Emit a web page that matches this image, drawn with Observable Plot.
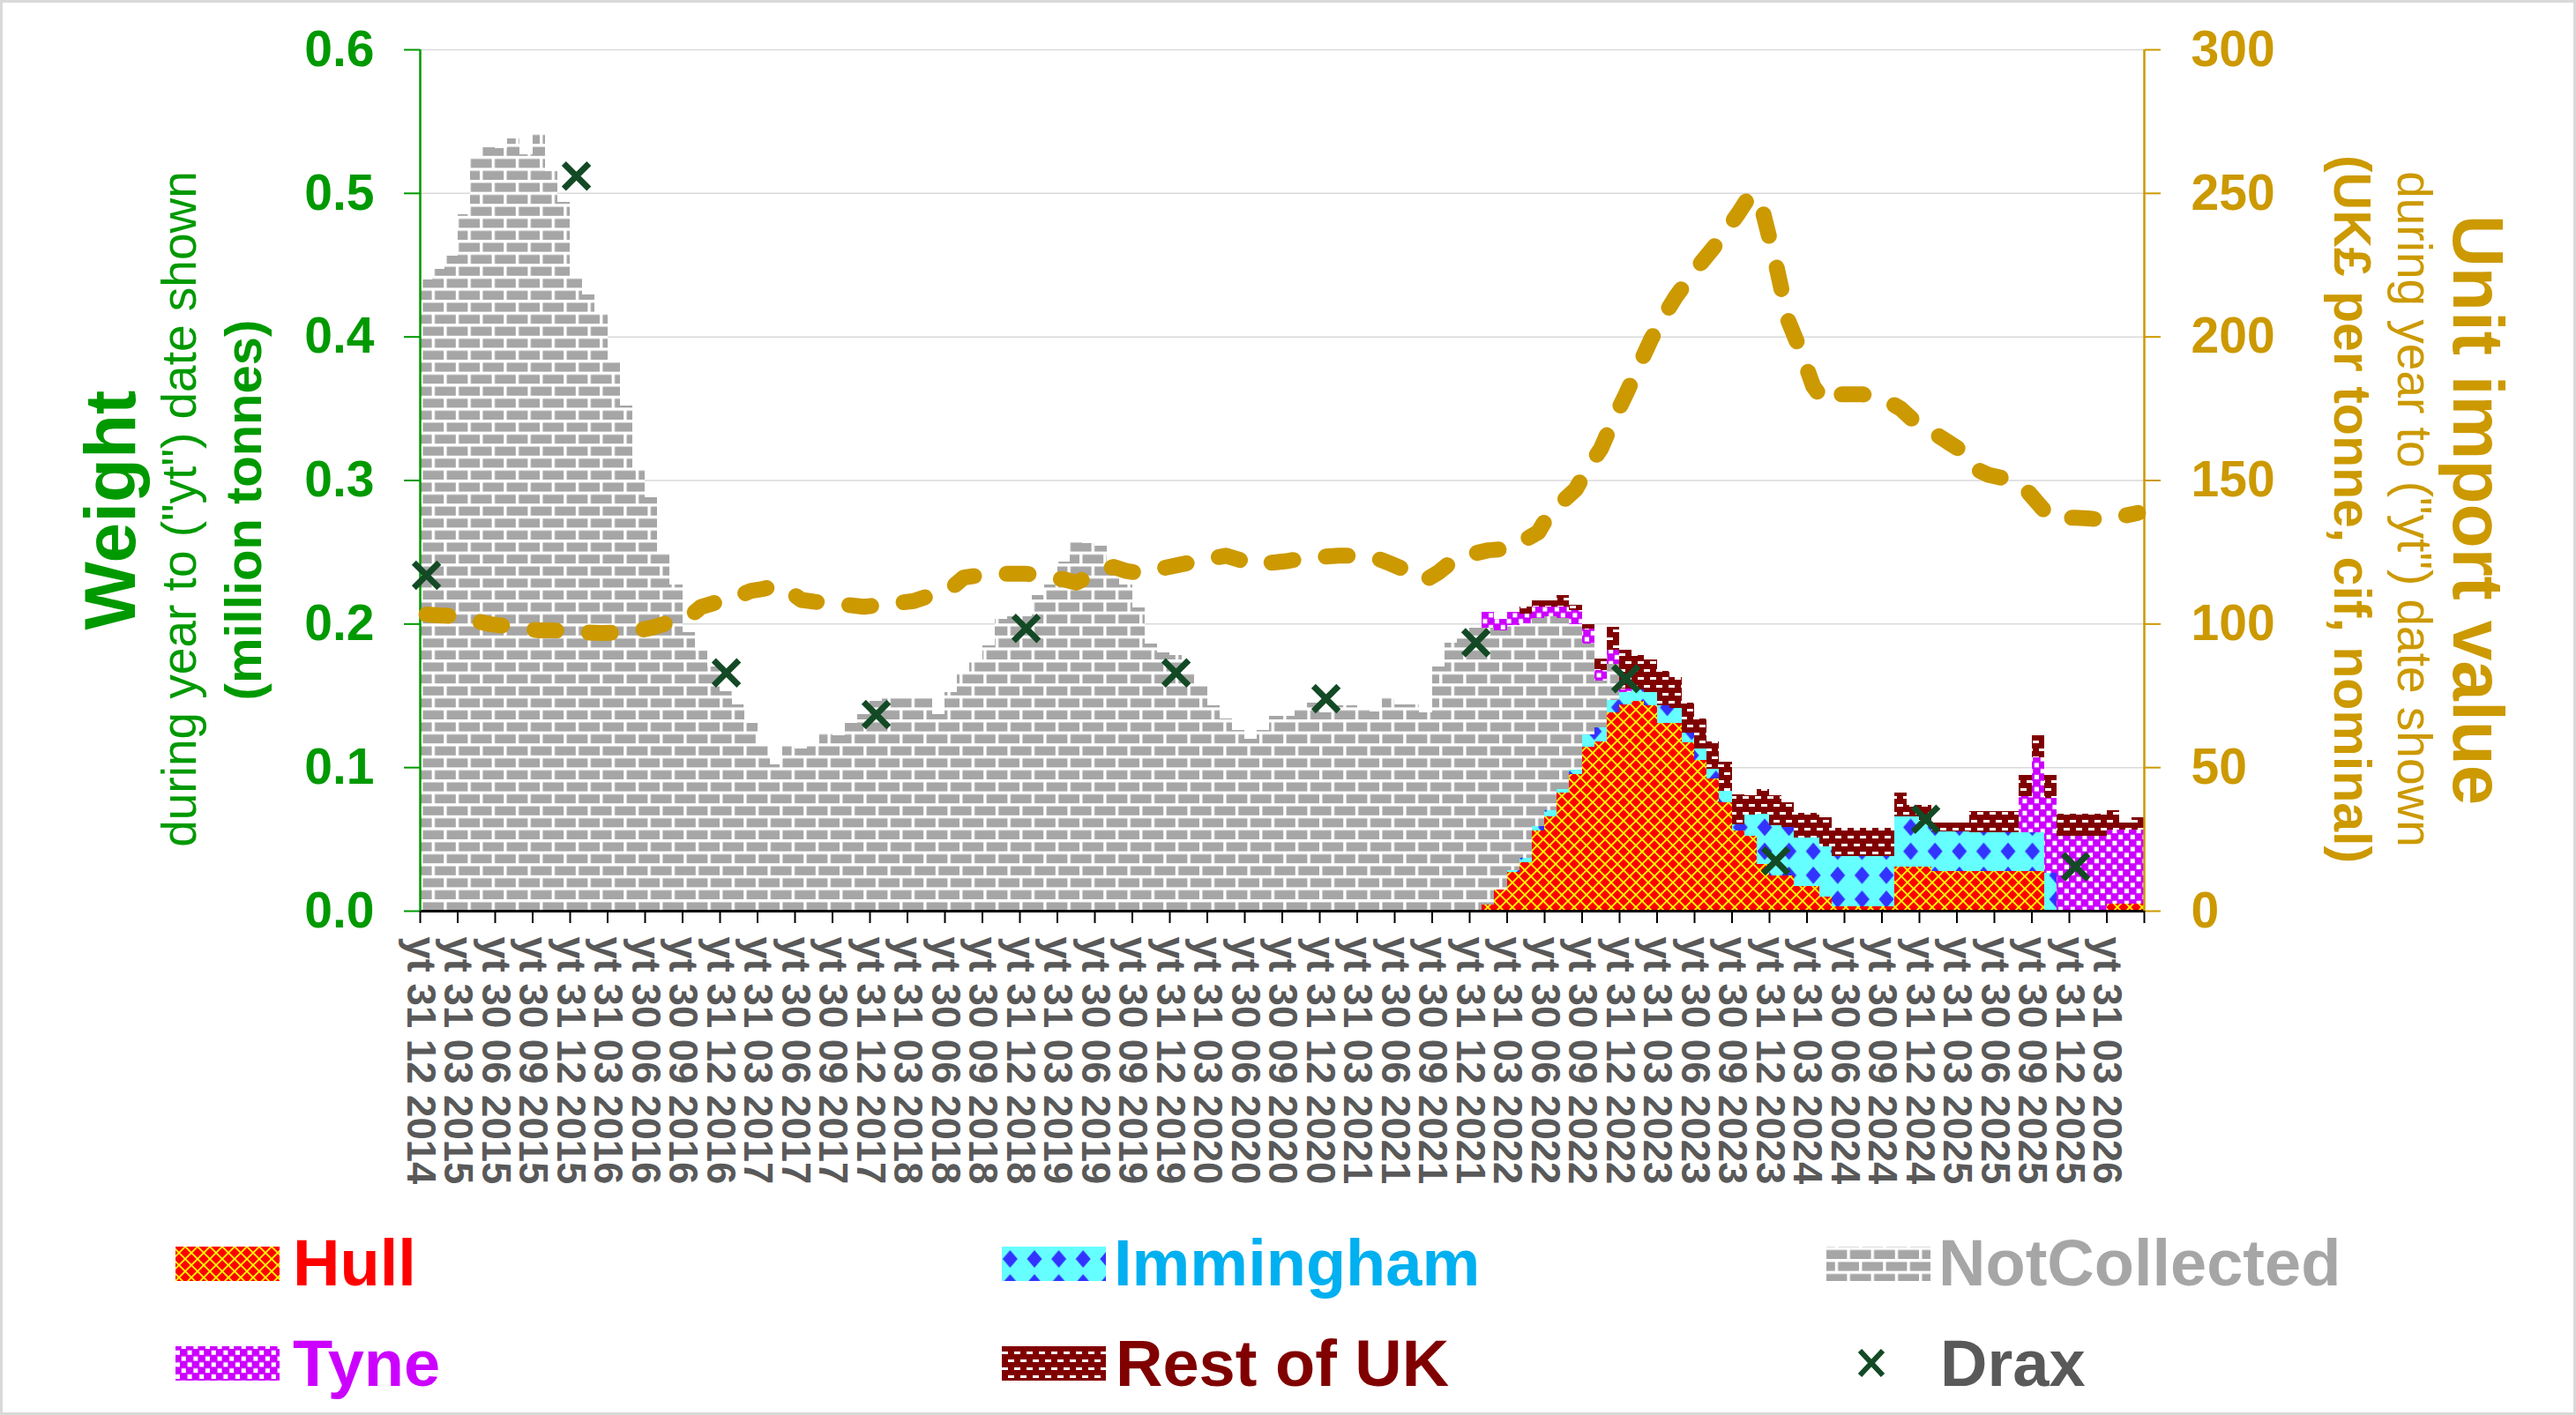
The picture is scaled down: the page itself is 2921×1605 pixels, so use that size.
<!DOCTYPE html>
<html>
<head>
<meta charset="utf-8">
<script src="https://cdn.jsdelivr.net/npm/d3@7"></script>
<script src="https://cdn.jsdelivr.net/npm/@observablehq/plot@0.6"></script>
<style>
html,body{margin:0;padding:0;background:#fff;}
#wrap{position:relative;width:2921px;height:1605px;overflow:hidden;background:#fff;font-family:"Liberation Sans",Arial,sans-serif;}
#chart{position:absolute;left:0;top:0;width:2921px;}
#legend{position:absolute;left:0;top:0;}
#frame{position:absolute;left:0;top:0;width:2921px;height:1605px;box-sizing:border-box;border:3px solid #d9d9d9;pointer-events:none;}
#legend text{font-family:"Liberation Sans",Arial,sans-serif;font-weight:bold;font-size:74px;}
</style>
</head>
<body>
<div id="wrap">
<div id="chart"></div>
<svg id="legend" width="2921" height="1605">
  <defs>
    <pattern id="pNot" patternUnits="userSpaceOnUse" width="27.2" height="27.2">
      <rect width="27.2" height="27.2" fill="#ffffff"/>
      <rect x="3.4" y="3.4" width="23.8" height="10.2" fill="#a6a6a6"/>
      <rect x="0" y="17" width="13.6" height="10.2" fill="#a6a6a6"/>
      <rect x="17" y="17" width="10.2" height="10.2" fill="#a6a6a6"/>
    </pattern>
    <pattern id="pHull" patternUnits="userSpaceOnUse" width="14" height="14">
      <rect width="14" height="14" fill="#ff0000"/>
      <path d="M-1,-1L15,15M15,-1L-1,15" stroke="#ffff00" stroke-width="1.8"/>
    </pattern>
    <pattern id="pImm" patternUnits="userSpaceOnUse" width="27.6" height="27.2">
      <rect width="27.6" height="27.2" fill="#66ffff"/>
      <path d="M13.8,3.6L22.3,13.6L13.8,23.6L5.3,13.6Z" fill="#3333ff"/>
    </pattern>
    <pattern id="pTyne" patternUnits="userSpaceOnUse" width="13.6" height="13.6">
      <rect width="13.6" height="13.6" fill="#cc00ff"/>
      <rect x="1.7" y="1.7" width="5.1" height="5.1" fill="#ffffff"/>
      <rect x="8.5" y="8.5" width="5.1" height="5.1" fill="#ffffff"/>
    </pattern>
    <pattern id="pRest" patternUnits="userSpaceOnUse" width="14" height="18">
      <rect width="14" height="18" fill="#800000"/>
      <rect x="2" y="3" width="7" height="3" fill="#ffffff"/>
      <rect x="9" y="12" width="7" height="3" fill="#ffffff"/>
      <rect x="-5" y="12" width="7" height="3" fill="#ffffff"/>
    </pattern>
  </defs>
  <rect x="199" y="1414" width="118" height="39" fill="url(#pHull)"/>
  <text x="332" y="1458" fill="#ff0000">Hull</text>
  <rect x="1136" y="1414" width="118" height="39" fill="url(#pImm)"/>
  <text x="1263" y="1458" fill="#00b0f0">Immingham</text>
  <rect x="2071" y="1414" width="118" height="39" fill="url(#pNot)"/>
  <text x="2198" y="1458" fill="#a6a6a6">NotCollected</text>
  <rect x="199" y="1527" width="118" height="39" fill="url(#pTyne)"/>
  <text x="332" y="1572" fill="#cc00ff">Tyne</text>
  <rect x="1136" y="1527" width="118" height="39" fill="url(#pRest)"/>
  <text x="1265" y="1572" fill="#800000">Rest of UK</text>
  <path d="M2109,1532L2135,1560M2135,1532L2109,1560" stroke="#134a25" stroke-width="6"/>
  <text x="2200" y="1572" fill="#595959">Drax</text>
</svg>
<div id="frame"></div>
</div>
<script>
// ---- category tick labels (every 3rd month) ----
const tickLabels = [
  "yt 31 12 2014",
  "yt 31 03 2015","yt 30 06 2015","yt 30 09 2015","yt 31 12 2015",
  "yt 31 03 2016","yt 30 06 2016","yt 30 09 2016","yt 31 12 2016",
  "yt 31 03 2017","yt 30 06 2017","yt 30 09 2017","yt 31 12 2017",
  "yt 31 03 2018","yt 30 06 2018","yt 30 09 2018","yt 31 12 2018",
  "yt 31 03 2019","yt 30 06 2019","yt 30 09 2019","yt 31 12 2019",
  "yt 31 03 2020","yt 30 06 2020","yt 30 09 2020","yt 31 12 2020",
  "yt 31 03 2021","yt 30 06 2021","yt 30 09 2021","yt 31 12 2021",
  "yt 31 03 2022","yt 30 06 2022","yt 30 09 2022","yt 31 12 2022",
  "yt 31 03 2023","yt 30 06 2023","yt 30 09 2023","yt 31 12 2023",
  "yt 31 03 2024","yt 30 06 2024","yt 30 09 2024","yt 31 12 2024",
  "yt 31 03 2025","yt 30 06 2025","yt 30 09 2025","yt 31 12 2025",
  "yt 31 03 2026"
];

// ---- weight, million tonnes, monthly (year to date) ----
const hull = [
  0,0,0,0,0,0,0,0,0,0,
  0,0,0,0,0,0,0,0,0,0,
  0,0,0,0,0,0,0,0,0,0,
  0,0,0,0,0,0,0,0,0,0,
  0,0,0,0,0,0,0,0,0,0,
  0,0,0,0,0,0,0,0,0,0,
  0,0,0,0,0,0,0,0,0,0,
  0,0,0,0,0,0,0,0,0,0,
  0,0,0,0,0,.004,.015,.027,.034,.056,
  .066,.082,.095,.114,.118,.138,.144,.146,.143,.131,
  .131,.1175,.105,.092,.0756,.056,.052,.0325,.0243,.0243,
  .0172,.0172,.010,.0028,.0028,.0028,.0028,.0028,.0305,.0305,
  .0305,.0274,.0274,.0274,.0274,.0274,.0274,.0274,.0274,.0274,
  0,0,0,0,0,.0049,.0049,.0049
];
const immingham = [
  0,0,0,0,0,0,0,0,0,0,
  0,0,0,0,0,0,0,0,0,0,
  0,0,0,0,0,0,0,0,0,0,
  0,0,0,0,0,0,0,0,0,0,
  0,0,0,0,0,0,0,0,0,0,
  0,0,0,0,0,0,0,0,0,0,
  0,0,0,0,0,0,0,0,0,0,
  0,0,0,0,0,0,0,0,0,0,
  0,0,0,0,0,0,0,.001,.003,.003,
  .004,.003,.0035,.009,.010,.009,.008,.008,.009,.012,
  .010,.0065,.008,.007,.008,.004,.015,.035,.035,.034,
  .034,.034,.035,.035,.035,.035,.035,.035,.035,.035,
  .033,.028,.028,.028,.027,.027,.027,.027,.027,.027,
  .0264,0,0,0,0,0,0,0
];
const notCollected = [
  .440,.447,.456,.485,.525,.532,.531,.538,.527,.541,
  .515,.494,.442,.429,.417,.383,.352,.308,.288,.249,
  .227,.194,.181,.170,.153,.144,.131,.116,.102,.116,
  .113,.116,.124,.122,.131,.137,.146,.148,.148,.148,
  .148,.137,.152,.166,.174,.185,.203,.205,.205,.220,
  .227,.243,.258,.256,.254,.240,.227,.211,.186,.180,
  .178,.165,.157,.143,.134,.126,.120,.126,.136,.136,
  .141,.145,.138,.143,.143,.140,.139,.149,.144,.144,
  .138,.170,.187,.190,.197,.193,.180,.171,.163,.145,
  .135,.119,.101,.063,.032,.025,0,0,0,0,
  0,0,0,0,0,0,0,0,0,0,
  0,0,0,0,0,0,0,0,0,0,
  0,0,0,0,0,0,0,0,0,0,
  0,0,0,0,0,0,0,0
];
const tyne = [
  0,0,0,0,0,0,0,0,0,0,
  0,0,0,0,0,0,0,0,0,0,
  0,0,0,0,0,0,0,0,0,0,
  0,0,0,0,0,0,0,0,0,0,
  0,0,0,0,0,0,0,0,0,0,
  0,0,0,0,0,0,0,0,0,0,
  0,0,0,0,0,0,0,0,0,0,
  0,0,0,0,0,0,0,0,0,0,
  0,0,0,0,0,.011,.008,.009,.007,.008,
  .007,.008,.010,.0105,.0075,.010,.003,0,0,0,
  0,0,0,0,0,0,0,0,0,0,
  0,0,0,0,0,0,0,0,0,0,
  0,0,0,0,0,0,0,0,.0257,.0522,
  .0521,.0519,.0519,.0519,.0519,.0519,.0519,.0519
];
const restOfUK = [
  0,0,0,0,0,0,0,0,0,0,
  0,0,0,0,0,0,0,0,0,0,
  0,0,0,0,0,0,0,0,0,0,
  0,0,0,0,0,0,0,0,0,0,
  0,0,0,0,0,0,0,0,0,0,
  0,0,0,0,0,0,0,0,0,0,
  0,0,0,0,0,0,0,0,0,0,
  0,0,0,0,0,0,0,0,0,0,
  0,0,0,0,0,0,0,0,.005,.004,
  .004,.008,.0033,.003,.008,.016,.027,.024,.023,.024,
  .022,.021,.021,.019,.020,.021,.0136,.017,.021,.017,
  .017,.017,.020,.020,.020,.020,.020,.020,.017,.008,
  .010,.006,.006,.006,.015,.015,.015,.015,.0147,.0154,
  .016,.0155,.0155,.0155,.0155,.013,.0044,.008
];

// ---- Drax (December of each year), million tonnes ----
const draxLabels = ["yt 31 12 2014","yt 31 12 2015","yt 31 12 2016","yt 31 12 2017","yt 31 12 2018","yt 31 12 2019",
                    "yt 31 12 2020","yt 31 12 2021","yt 31 12 2022","yt 31 12 2023","yt 31 12 2024","yt 31 12 2025"];
const draxValues = [.234,.512,.166,.137,.197,.166,.148,.187,.162,.035,.064,.031];

// ---- unit import value, UK£ per tonne, monthly ----
const unitValue = [
  103.3,103,102.8,102.4,101,100,99.5,98.8,98.3,97.8,
  97.8,97.6,97.4,97,96.9,97,97.2,97.8,98.7,100,
  101.3,102.4,106,107.3,108.6,109.8,111.6,112.3,113.4,111.6,
  108.4,107.8,107.3,107,106.5,106,106.5,107,107.5,108,
  109.5,111,112.5,116.2,116.8,117.3,117.5,117.5,117.5,117,
  116,115.6,114.4,116.5,118.5,119.9,118.5,117.8,118.7,119.5,
  120.4,121.3,122.2,123,123.8,122.5,120.6,121.2,121.5,122,
  122.8,123.2,123.5,123.8,123.8,123.6,123,121.3,119.5,118.5,
  115.4,118,121.5,123.8,124.7,125.7,126,127,129.5,132,
  139.4,143,147,154.7,161,171,180,189.5,199,207,
  214,220,225.7,231,237,243,249.7,243,225.7,205.7,
  195,182.8,177,180,180,180,179,177.5,175,171,
  168,165.6,162.8,160,154,152,151,148,147,142,
  137,137,137,136.8,136.4,137,137.8,138.7
];

const weightTicks = [0, 0.1, 0.2, 0.3, 0.4, 0.5, 0.6];
const valueTicks = [0, 50, 100, 150, 200, 250, 300];

const seriesNames = ["Hull", "Immingham", "NotCollected", "Tyne", "Rest of UK"];
const seriesData = [hull, immingham, notCollected, tyne, restOfUK];
const patternUrls = ["url(#pHull)", "url(#pImm)", "url(#pNot)", "url(#pTyne)", "url(#pRest)"];

const nCat = hull.length;
const stackRows = seriesNames.flatMap((s, k) => seriesData[k].map((v, i) => ({i, series: s, value: v})));
const unitRows = unitValue.map((v, i) => ({i, value: v}));
const draxRows = draxValues.map((v, k) => ({i: tickLabels.indexOf(draxLabels[k]) * 3, value: v}));
const toWeight = d3.scaleLinear([0, 300], [0, 0.6]);

const W = 2921, H = 1385, L = 476, R = 2431, T = 56, B = 1033;
const midY = (T + B) / 2;
const GREEN = "#009900", GOLD = "#cc9900";

const chart = Plot.plot({
  width: W, height: H,
  marginLeft: L, marginRight: W - R, marginTop: T, marginBottom: H - B,
  style: {fontFamily: '"Liberation Sans", Arial, sans-serif', background: "transparent", overflow: "visible"},
  x: {domain: [0, nCat], label: null},
  y: {domain: [0, 0.6], label: null},
  color: {type: "ordinal", domain: seriesNames, range: patternUrls},
  marks: [
    Plot.gridY(weightTicks.slice(1), {stroke: "#d9d9d9", strokeOpacity: 1, strokeWidth: 1.5}),
    Plot.rectY(stackRows, {x1: "i", x2: d => d.i + 1, y: "value", fill: "series", order: seriesNames, shapeRendering: "crispEdges"}),
    Plot.ruleY([0], {stroke: "#000", strokeWidth: 3}),
    Plot.ruleX([0], {stroke: GREEN, strokeWidth: 2.5}),
    Plot.ruleX([nCat], {stroke: GOLD, strokeWidth: 2.5}),
    Plot.line(unitRows, {x: d => d.i + 0.5, y: d => toWeight(d.value), stroke: GOLD, strokeWidth: 18,
      strokeDasharray: "25 37", strokeLinecap: "round", strokeLinejoin: "round"}),
    Plot.dot(draxRows, {x: d => d.i + 0.5, y: "value", symbol: "times", r: 13, stroke: "#134a25", strokeWidth: 7}),
    Plot.axisY(weightTicks, {anchor: "left", tickSize: 18, tickPadding: 34, tickFormat: d3.format(".1f"),
      color: GREEN, strokeWidth: 2, fontSize: 57, fontWeight: "bold", label: null}),
    Plot.axisY(valueTicks.map(toWeight), {anchor: "right", tickSize: 18, tickPadding: 35,
      tickFormat: d => String(Math.round(toWeight.invert(d))),
      color: GOLD, strokeWidth: 2, fontSize: 57, fontWeight: "bold", label: null}),
    Plot.axisX(d3.range(0, nCat + 1, 3), {anchor: "bottom", tickSize: 14, stroke: "#000", strokeWidth: 2, fill: "none", label: null}),
    Plot.axisX(tickLabels.map((_, k) => 3 * k), {anchor: "bottom", tickSize: 0, tickPadding: 29, tickRotate: 90,
      tickFormat: d => tickLabels[d / 3], fill: "#595959", fontSize: 45.5, fontWeight: "bold", label: null}),
    // left axis title
    Plot.text(["Weight"], {frameAnchor: "left", textAnchor: "middle", lineAnchor: "middle", dx: 126 - L, dy: 578 - midY, rotate: -90, fontSize: 82, fontWeight: "bold", fill: GREEN}),
    Plot.text(['during year to ("yt") date shown'], {frameAnchor: "left", textAnchor: "middle", lineAnchor: "middle", dx: 204 - L, dy: 577 - midY, rotate: -90, fontSize: 55, fill: GREEN}),
    Plot.text(["(million tonnes)"], {frameAnchor: "left", textAnchor: "middle", lineAnchor: "middle", dx: 277 - L, dy: 578 - midY, rotate: -90, fontSize: 58, fontWeight: "bold", fill: GREEN}),
    // right axis title
    Plot.text(["Unit import value"], {frameAnchor: "right", textAnchor: "middle", lineAnchor: "middle", dx: 2808 - R, dy: 578 - midY, rotate: 90, fontSize: 82, fontWeight: "bold", fill: GOLD}),
    Plot.text(['during year to ("yt") date shown'], {frameAnchor: "right", textAnchor: "middle", lineAnchor: "middle", dx: 2736 - R, dy: 577 - midY, rotate: 90, fontSize: 55, fill: GOLD}),
    Plot.text(["(UK£ per tonne, cif, nominal)"], {frameAnchor: "right", textAnchor: "middle", lineAnchor: "middle", dx: 2665 - R, dy: 577 - midY, rotate: 90, fontSize: 59, fontWeight: "bold", fill: GOLD})
  ]
});
document.getElementById("chart").appendChild(chart);
</script>
</body>
</html>
